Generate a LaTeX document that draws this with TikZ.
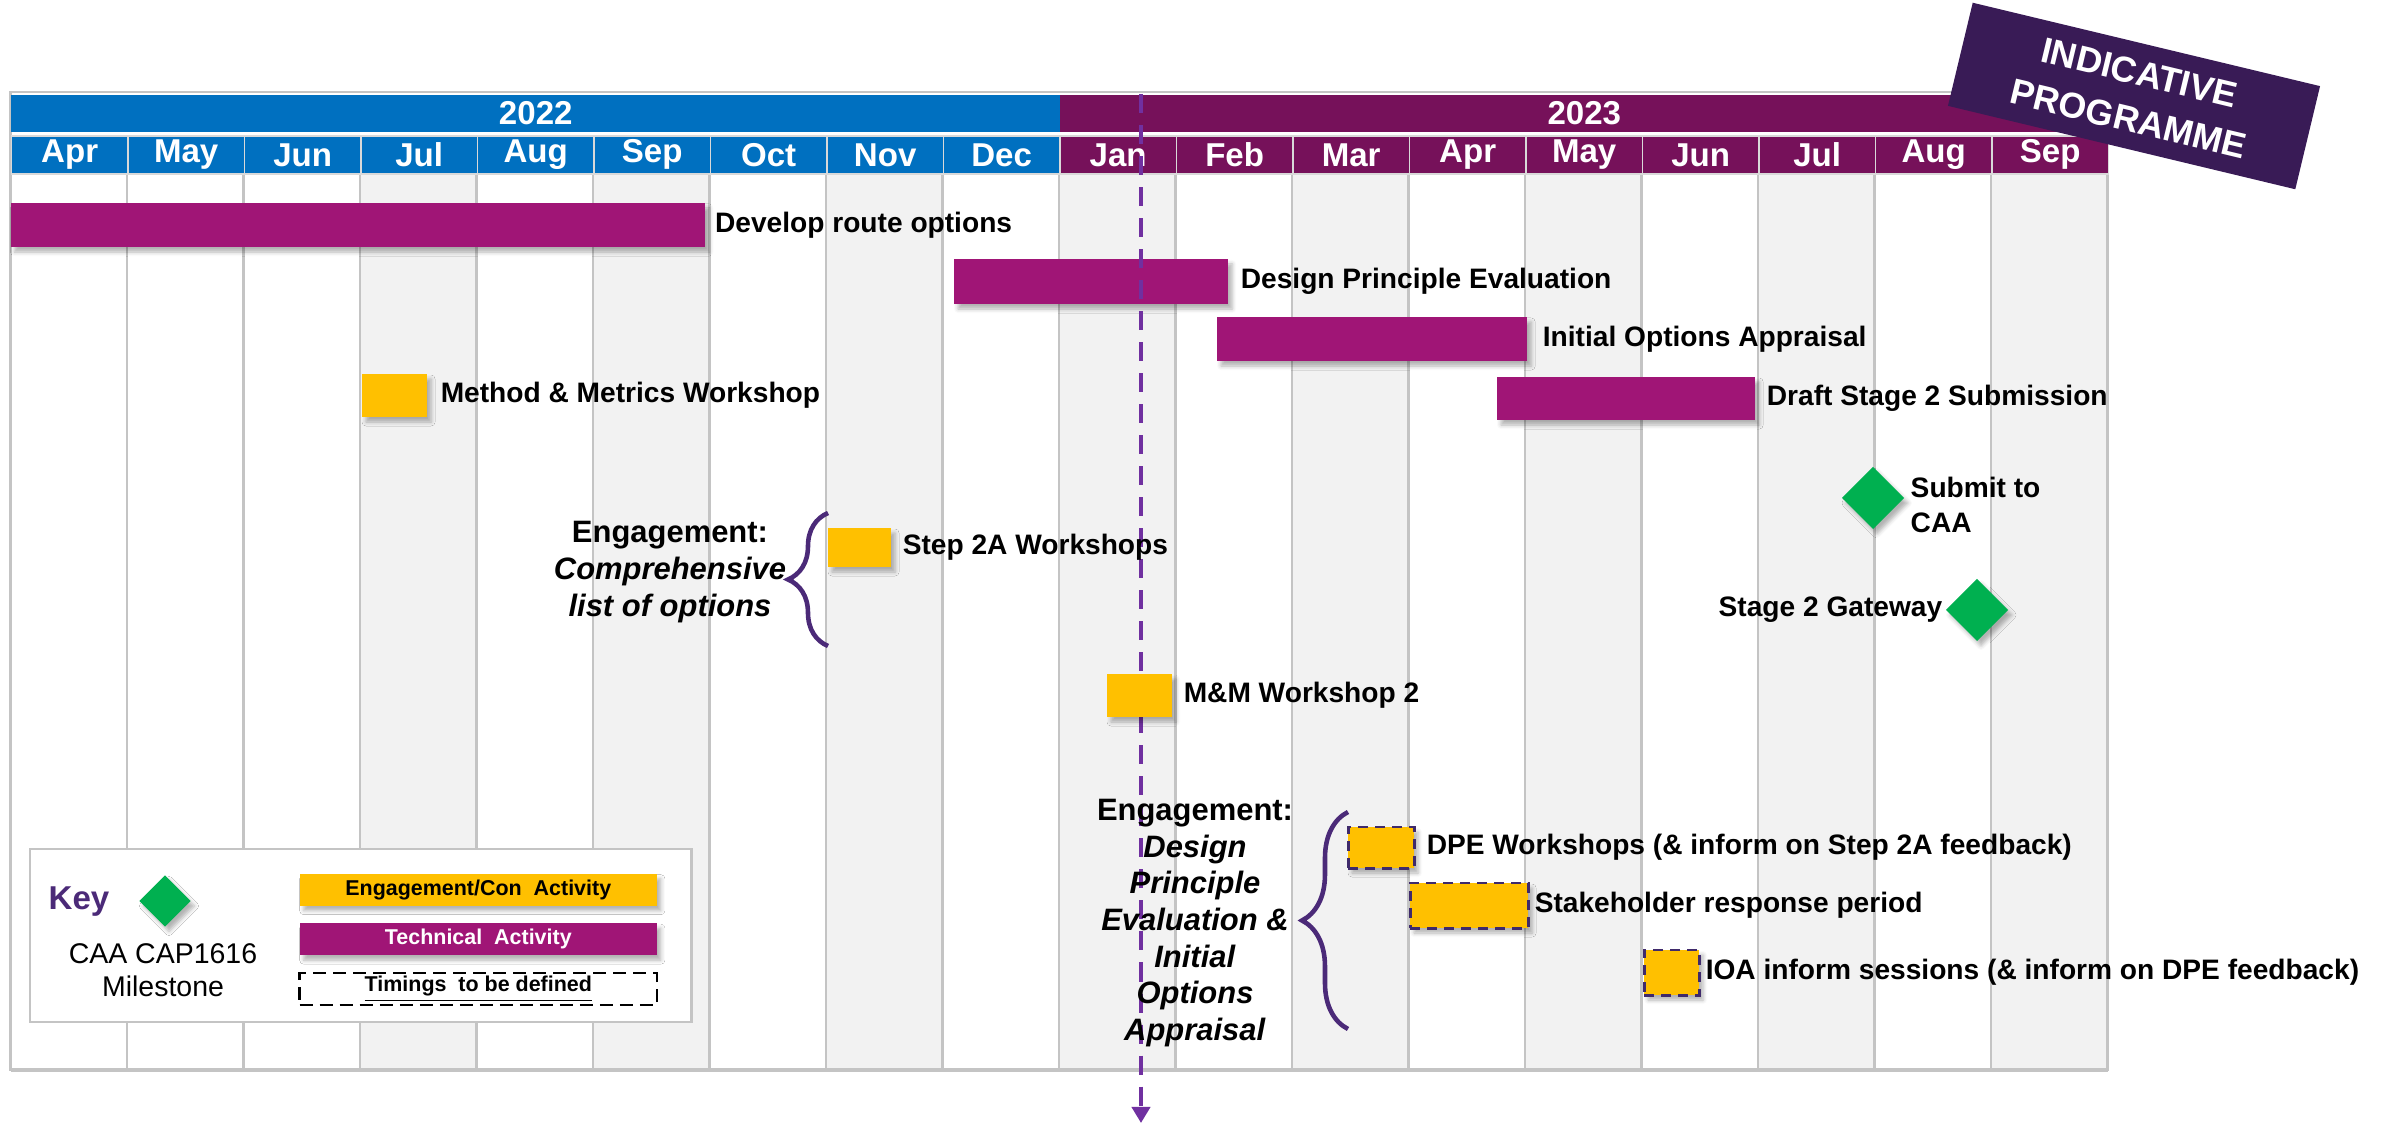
\documentclass[tikz,border=0pt]{standalone}
\usepackage{fontspec}
\setmainfont{Liberation Sans}
\usetikzlibrary{arrows.meta,positioning,shapes.geometric,decorations.pathreplacing,shadows.blur}

\definecolor{yr22}{HTML}{0070C0}
\definecolor{yr23}{HTML}{76115A}
\definecolor{techbar}{HTML}{A01576}
\definecolor{engyellow}{HTML}{FFC000}
\definecolor{msgreen}{HTML}{00B050}
\definecolor{bannerpurple}{HTML}{391B56}
\definecolor{nowpurple}{HTML}{7030A0}
\definecolor{bracepurple}{HTML}{4B2A78}
\definecolor{tbdpurple}{HTML}{3F2A6B}
\definecolor{colshade}{HTML}{F2F2F2}
\definecolor{gridgray}{HTML}{C4C4C4}

\begin{document}
\begin{tikzpicture} [x=0.01cm, y=-0.01cm,
    shadowed/.style={blur shadow={shadow xshift=0.04cm, shadow yshift=-0.05cm, shadow blur radius=0.04cm, shadow opacity=30}},
    tech/.style={rectangle, fill=techbar, anchor=north west, inner sep=0pt, outer sep=0pt, shadowed},
    engage/.style={rectangle, fill=engyellow, anchor=north west, inner sep=0pt, outer sep=0pt, shadowed},
    tbd/.style={engage, draw=tbdpurple, line width=0.85pt, dash pattern=on 0.1cm off 0.07cm},
    mstone/.style={diamond, fill=msgreen, minimum size=0.62cm, inner sep=0pt, outer sep=0pt, shadowed},
    lbl/.style={inner sep=0pt, font=\fontsize{8}{10.2}\selectfont\bfseries},
    engtxt/.style={inner sep=0pt, align=center, font=\fontsize{8.8}{10.4}\selectfont\bfseries},
    yearbar/.style={rectangle, anchor=north west, minimum height=0.37cm, inner sep=0pt, text=white, font=\fontsize{9.4}{11}\selectfont\bfseries},
    month/.style={rectangle, anchor=north west, minimum width=1.165cm, minimum height=0.38cm, inner sep=0pt, draw=white!85!black, line width=0.5pt, text=white, font=\fontsize{9.4}{11}\selectfont\bfseries},
    banner/.style={rectangle, fill=bannerpurple, text=white, align=center, minimum width=3.57cm, minimum height=1.06cm, inner sep=0pt, font=\fontsize{10.2}{13.5}\selectfont\bfseries},
    legbar/.style={rectangle, anchor=north west, minimum width=3.57cm, minimum height=0.32cm, inner sep=0pt, font=\fontsize{6.1}{7}\selectfont\bfseries},
    bracestyle/.style={draw=bracepurple, line width=1.3pt, decorate},
    nowline/.style={draw=nowpurple, line width=1.1pt, dash pattern=on 0.19cm off 0.12cm},
    >={Triangle[length=0.16cm,width=0.18cm]}
    ]
    \useasboundingbox (0,0) rectangle (2381,1125);

    %Grid
    \foreach \i in {3,5,...,17}
        \fill[colshade] (10.5+\i*116.5,173) rectangle ++(116.5,897);
    \foreach \i in {1,...,17}
        \draw[gridgray, line width=0.6pt] (10.5+\i*116.5,173) -- (10.5+\i*116.5,1070);
    \draw[gridgray, line width=0.6pt] (10.5,92) rectangle (2107.5,1070);
    \draw[gridgray, line width=1pt] (10.5,1070) -- (2107.5,1070);

    %Header
    \node[yearbar, fill=yr22, minimum width=10.485cm] (y22) at (10.5,94) {2022};
    \node[yearbar, fill=yr23, minimum width=10.485cm] (y23) at (1059,94) {2023};
    \foreach \m [count=\i from 0] in {Apr,May,Jun,Jul,Aug,Sep,Oct,Nov,Dec}
        \node[month, fill=yr22] (m\i) at (10.5+\i*116.5,135) {\m};
    \foreach \m [count=\i from 9] in {Jan,Feb,Mar,Apr,May,Jun,Jul,Aug,Sep}
        \node[month, fill=yr23] (m\i) at (10.5+\i*116.5,135) {\m};

    %Technical bars
    \node[tech, minimum width=6.945cm, minimum height=0.44cm] (dro) at (10.5,203) {};
    \node[tech, minimum width=2.74cm, minimum height=0.45cm] (dpe) at (954,259) {};
    \node[tech, minimum width=3.1cm, minimum height=0.44cm] (ioa) at (1217,317) {};
    \node[tech, minimum width=2.58cm, minimum height=0.43cm] (ds2) at (1497,377) {};

    %Today line
    \coordinate (now-top) at (1141,94);
    \coordinate (now-bot) at (1141,1123);
    \draw[nowline, ->] (now-top) -- (now-bot);

    %Engagement boxes
    \node[engage, minimum width=0.65cm, minimum height=0.43cm] (mmw) at (362,374) {};
    \node[engage, minimum width=0.63cm, minimum height=0.39cm] (s2a) at (828,528) {};
    \node[engage, minimum width=0.65cm, minimum height=0.43cm] (mm2) at (1107,674) {};
    \node[tbd, minimum width=0.66cm, minimum height=0.41cm] (dpew) at (1348,827) {};
    \node[tbd, minimum width=1.18cm, minimum height=0.45cm] (srp) at (1410,883) {};
    \node[tbd, minimum width=0.55cm, minimum height=0.45cm] (ioas) at (1644,950) {};

    %Milestones
    \node[mstone] (sub) at (1873,498) {};
    \node[mstone] (gate) at (1977,610) {};

    %Labels
    \node[lbl, right=0.09cm of dro] (dro-l) {Develop route options};
    \node[lbl, right=0.12cm of dpe] (dpe-l) {Design Principle Evaluation};
    \node[lbl, right=0.15cm of ioa] (ioa-l) {Initial Options Appraisal};
    \node[lbl, right=0.11cm of ds2] (ds2-l) {Draft Stage 2 Submission};
    \node[lbl, right=0.13cm of mmw] (mmw-l) {Method \& Metrics Workshop};
    \node[lbl, right=0.11cm of s2a] (s2a-l) {Step 2A Workshops};
    \node[lbl, right=0.11cm of mm2] (mm2-l) {M\&M Workshop 2};
    \node[lbl, right=0.12cm of dpew] (dpew-l) {DPE Workshops (\& inform on Step 2A feedback)};
    \node[lbl, right=0.06cm of srp] (srp-l) {Stakeholder response period};
    \node[lbl, right=0.06cm of ioas] (ioas-l) {IOA inform sessions (\& inform on DPE feedback)};
    \node[lbl, align=left, right=0.06cm of sub, yshift=-0.07cm] (sub-l) {Submit to\\CAA};
    \node[lbl, left=0.03cm of gate] (gate-l) {Stage 2 Gateway};

    %Engagement groups
    \node[engtxt] (eng1) at (670,572) {Engagement:\\\textit{Comprehensive}\\\textit{list of options}};
    \coordinate (b1-top) at (828,513);
    \coordinate (b1-bot) at (828,646);
    \draw[bracestyle, decoration={brace, amplitude=0.4cm}] (b1-bot) -- (b1-top);

    \node[engtxt] (eng2) at (1195,923) {Engagement:\\\textit{Design}\\\textit{Principle}\\\textit{Evaluation \&}\\\textit{Initial}\\\textit{Options}\\\textit{Appraisal}};
    \coordinate (b2-top) at (1348,812);
    \coordinate (b2-bot) at (1348,1029);
    \draw[bracestyle, decoration={brace, amplitude=0.46cm}] (b2-bot) -- (b2-top);

    %Banner
    \node[banner, rotate=-13.5] (ind) at (2134,96) {INDICATIVE\\PROGRAMME};

    %Key
    \node[rectangle, anchor=north west, fill=white, draw=gridgray, line width=0.6pt, minimum width=6.61cm, minimum height=1.73cm] (key) at (29,848) {};
    \node[text=bracepurple, font=\fontsize{9.4}{11}\selectfont\bfseries, inner sep=0pt] (key-l) at (79,902) {Key};
    \node[mstone, minimum size=0.51cm] (key-ms) at (165,901) {};
    \node[align=center, inner sep=0pt, font=\fontsize{8.1}{9.4}\selectfont] (key-ms-l) at (163,970) {CAA CAP1616\\Milestone};
    \node[legbar, fill=engyellow, shadowed] (leg-eng) at (299,873) {Engagement/Con\ \ Activity};
    \node[legbar, fill=techbar, text=white, shadowed, below=0.16cm of leg-eng] (leg-tech) {Technical\ \ Activity};
    \node[legbar, draw=black, line width=0.7pt, dash pattern=on 0.13cm off 0.07cm, below=0.16cm of leg-tech] (leg-tbd) {\underline{Timings\ \ to be defined}};

\end{tikzpicture}
\end{document}
